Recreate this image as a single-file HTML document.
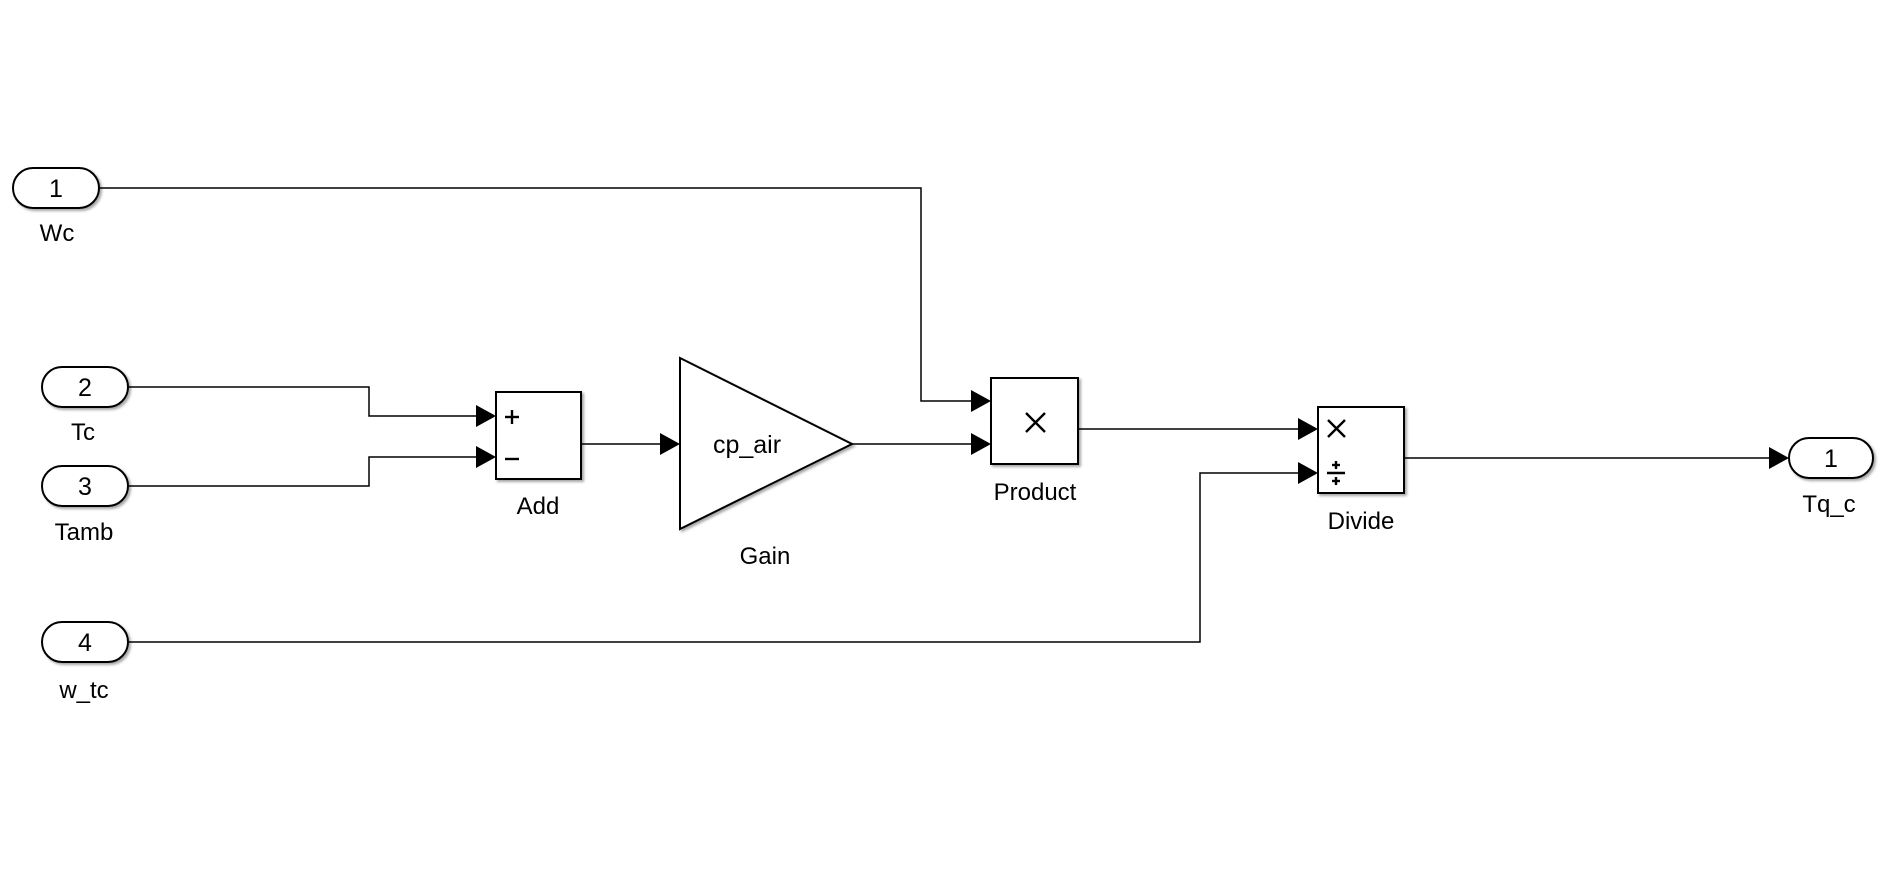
<!DOCTYPE html>
<html><head><meta charset="utf-8"><style>
html,body{margin:0;padding:0;background:#fff;}
svg{display:block;}
text{font-family:"Liberation Sans",Arial,sans-serif;fill:#000;}
</style></head><body>
<svg width="1886" height="879" viewBox="0 0 1886 879" xmlns="http://www.w3.org/2000/svg">
<defs>
<filter id="sh" x="-10%" y="-10%" width="130%" height="130%">
<feDropShadow dx="2" dy="2" stdDeviation="1.2" flood-color="#000" flood-opacity="0.35"/>
</filter>
</defs>
<g fill="none" stroke="#000" stroke-width="1.5">
<polyline points="99,188 921,188 921,401 975,401"/>
<polyline points="128,387 369,387 369,416 478,416"/>
<polyline points="128,486 369,486 369,457 478,457"/>
<line x1="581" y1="444" x2="662" y2="444"/>
<line x1="852" y1="444" x2="973" y2="444"/>
<line x1="1078" y1="429" x2="1300" y2="429"/>
<polyline points="128,642 1200,642 1200,473 1300,473"/>
<line x1="1404" y1="458" x2="1771" y2="458"/>
</g>
<g fill="#000">
<polygon points="476,405 496,416 476,427"/>
<polygon points="476,446 496,457 476,468"/>
<polygon points="660,433 680,444 660,455"/>
<polygon points="971,390 991,401 971,412"/>
<polygon points="971,433 991,444 971,455"/>
<polygon points="1298,418 1318,429 1298,440"/>
<polygon points="1298,462 1318,473 1298,484"/>
<polygon points="1769,447 1789,458 1769,469"/>
</g>
<g fill="#fff" stroke="#000" stroke-width="2" filter="url(#sh)">
<rect x="13" y="168" width="86" height="40" rx="20"/>
<rect x="42" y="367" width="86" height="40" rx="20"/>
<rect x="42" y="466" width="86" height="40" rx="20"/>
<rect x="42" y="622" width="86" height="40" rx="20"/>
<rect x="1789" y="438" width="84" height="40" rx="20"/>
<rect x="496" y="392" width="85" height="87"/>
<polygon points="680,358 852,444 680,529"/>
<rect x="991" y="378" width="87" height="86"/>
<rect x="1318" y="407" width="86" height="86"/>
</g>
<g font-size="25" text-anchor="middle">
<text x="56" y="197">1</text>
<text x="85" y="396">2</text>
<text x="85" y="495">3</text>
<text x="85" y="651">4</text>
<text x="1831" y="467">1</text>
</g>
<g font-size="24" text-anchor="middle">
<text x="57" y="241">Wc</text>
<text x="83" y="440">Tc</text>
<text x="84" y="540">Tamb</text>
<text x="84" y="698">w_tc</text>
<text x="538" y="514">Add</text>
<text x="765" y="564">Gain</text>
<text x="1035" y="500">Product</text>
<text x="1361" y="529">Divide</text>
<text x="1829" y="512">Tq_c</text>
<text x="747" y="453" font-size="25">cp_air</text>
</g>
<g stroke="#000" stroke-width="2.4" fill="none">
<line x1="505" y1="417" x2="519" y2="417"/><line x1="512" y1="410" x2="512" y2="424"/>
<line x1="505" y1="459" x2="519" y2="459"/>
<line x1="1026" y1="413" x2="1045" y2="432"/><line x1="1045" y1="413" x2="1026" y2="432"/>
<line x1="1328" y1="420" x2="1345" y2="437"/><line x1="1345" y1="420" x2="1328" y2="437"/>
<line x1="1327" y1="473" x2="1345" y2="473"/>
<line x1="1332" y1="465" x2="1340" y2="465"/><line x1="1336" y1="461" x2="1336" y2="469"/>
<line x1="1332" y1="481" x2="1340" y2="481"/><line x1="1336" y1="477" x2="1336" y2="485"/>
</g>
</svg>
</body></html>
